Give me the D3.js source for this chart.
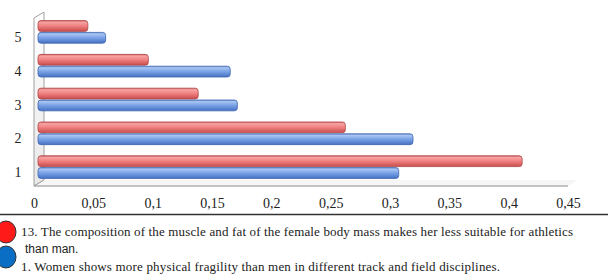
<!DOCTYPE html>
<html>
<head>
<meta charset="utf-8">
<script src="https://cdn.jsdelivr.net/npm/d3@7"></script>
<style>
  html, body { margin: 0; padding: 0; background: #fff; }
  svg { display: block; }
</style>
</head>
<body>
<div id="chart"></div>
<script>
// categories, bottom (1) to top (5)
var categories = ["1", "2", "3", "4", "5"];
// series 13 (red) and series 1 (blue)
var redValues = [0.408, 0.259, 0.135, 0.093, 0.042];
var blueValues = [0.304, 0.316, 0.168, 0.162, 0.057];
var xTicks = [0, 0.05, 0.1, 0.15, 0.2, 0.25, 0.3, 0.35, 0.4, 0.45];
var legendLabels = [
  ["13. The composition of the muscle and fat of the female body mass makes her less suitable for athletics", "than man."],
  ["1.  Women shows more physical fragility than men in different track and field disciplines."]
];

var width = 612, height = 280;
var depthX = 10, depthY = 6;
var barShift = 4;

var svg = d3.select('#chart').append('svg')
  .attr('width', width)
  .attr('height', height);

var defs = svg.append('defs');

function addGradient(id, stops) {
  var g = defs.append('linearGradient')
    .attr('id', id)
    .attr('x1', 0).attr('y1', 0)
    .attr('x2', 0).attr('y2', 1);
  stops.forEach(function(s) {
    g.append('stop').attr('offset', s[0]).attr('stop-color', s[1]);
  });
}
addGradient('gradRed', [[0, '#d46060'], [0.15, '#f6a3a3'], [0.45, '#f28585'], [1, '#c94c4c']]);
addGradient('gradBlue', [[0, '#6f95d8'], [0.15, '#a9c5f2'], [0.45, '#7ea6e8'], [1, '#4571c4']]);
addGradient('gradWall', [[0, '#ffffff'], [1, '#e8e8e8']]);

var x = d3.scaleLinear()
  .domain([0, 0.45])
  .range([34, 568]);

var y = d3.scaleBand()
  .domain(categories.slice().reverse())
  .range([15, 184])
  .paddingInner(0.3)
  .paddingOuter(0.15);

var ySub = d3.scaleBand()
  .domain(['red', 'blue'])
  .range([0, y.bandwidth()]);

var floorY = 186;
var wallTop = 18;

// wall on the left
svg.append('path')
  .attr('d', 'M' + x(0) + ',' + floorY +
    'L' + x(0) + ',' + wallTop +
    'L' + (x(0) + depthX) + ',' + (wallTop - depthY) +
    'L' + (x(0) + depthX) + ',' + (floorY - depthY) + 'Z')
  .attr('fill', 'url(#gradWall)')
  .attr('stroke', '#a0a0a0')
  .attr('stroke-width', 1);

// floor
svg.append('path')
  .attr('d', 'M' + x(0) + ',' + floorY +
    'L' + (x(0) + depthX) + ',' + (floorY - depthY) +
    'L' + (x(0.45) + depthX) + ',' + (floorY - depthY) +
    'L' + x(0.45) + ',' + floorY + 'Z')
  .attr('fill', '#f6f6f6')
  .attr('stroke', 'none');
svg.append('line')
  .attr('x1', x(0)).attr('x2', x(0.45))
  .attr('y1', floorY).attr('y2', floorY)
  .attr('stroke', '#8c8c8c')
  .attr('stroke-width', 1.2);
svg.append('line')
  .attr('x1', x(0)).attr('x2', x(0) + depthX)
  .attr('y1', floorY).attr('y2', floorY - depthY)
  .attr('stroke', '#a0a0a0');

// bars
var rows = categories.map(function(c, i) {
  return { cat: c, red: redValues[i], blue: blueValues[i] };
});

var groups = svg.selectAll('g.row')
  .data(rows)
  .enter().append('g')
  .attr('class', 'row')
  .attr('transform', function(d) { return 'translate(0,' + y(d.cat) + ')'; });

var series = [
  { key: 'red', fill: 'url(#gradRed)', stroke: '#b04848' },
  { key: 'blue', fill: 'url(#gradBlue)', stroke: '#3d66b0' }
];

series.forEach(function(s) {
  groups.append('rect')
    .attr('x', x(0) + barShift)
    .attr('y', ySub(s.key) + 0.5)
    .attr('width', function(d) { return x(d[s.key]) - x(0); })
    .attr('height', ySub.bandwidth() - 1)
    .attr('rx', 3)
    .attr('ry', 3)
    .attr('fill', s.fill)
    .attr('stroke', s.stroke)
    .attr('stroke-width', 0.8);
});

// category labels
svg.selectAll('text.cat')
  .data(categories)
  .enter().append('text')
  .attr('class', 'cat')
  .attr('x', 18)
  .attr('y', function(d) { return y(d) + y.bandwidth() / 2 + 5 + 5; })
  .attr('text-anchor', 'middle')
  .attr('font-family', 'Liberation Serif, Times New Roman, serif')
  .attr('font-size', '14px')
  .attr('fill', '#222')
  .text(function(d) { return d; });

// x axis labels
var locale = d3.formatLocale({ decimal: ',', thousands: '.', grouping: [3], currency: ['', ''] });
var xAxis = d3.axisBottom(x)
  .tickValues(xTicks)
  .tickSize(0)
  .tickPadding(0)
  .tickFormat(locale.format('.2~f'));

var axisG = svg.append('g')
  .attr('transform', 'translate(0,' + 198 + ')')
  .call(xAxis);
axisG.select('.domain').remove();
axisG.selectAll('text')
  .attr('font-family', 'Liberation Serif, Times New Roman, serif')
  .attr('font-size', '14px')
  .attr('fill', '#222');

// separator line
svg.append('line')
  .attr('x1', 0).attr('x2', 608)
  .attr('y1', 214.5).attr('y2', 214.5)
  .attr('stroke', '#333')
  .attr('stroke-width', 1.5);

// legend
var legendColors = ['#ff1a1a', '#0a6fc4'];
var legendY = [232, 257];
legendColors.forEach(function(c, i) {
  svg.append('ellipse')
    .attr('cx', 6)
    .attr('cy', legendY[i])
    .attr('rx', 10)
    .attr('ry', 11)
    .attr('fill', c)
    .attr('stroke', '#333')
    .attr('stroke-width', 1);
});

svg.append('text')
  .attr('x', 21).attr('y', 236)
  .attr('font-family', 'Liberation Serif, Times New Roman, serif')
  .attr('font-size', '13px')
  .attr('fill', '#222')
  .attr('textLength', 552)
  .attr('lengthAdjust', 'spacing')
  .text(legendLabels[0][0]);
svg.append('text')
  .attr('x', 25).attr('y', 253)
  .attr('font-family', 'Liberation Sans, Arial, sans-serif')
  .attr('font-size', '12px')
  .attr('fill', '#222')
  .text(legendLabels[0][1]);
svg.append('text')
  .attr('x', 21).attr('y', 271)
  .attr('font-family', 'Liberation Serif, Times New Roman, serif')
  .attr('font-size', '13px')
  .attr('fill', '#222')
  .attr('textLength', 479)
  .attr('lengthAdjust', 'spacing')
  .text(legendLabels[1][0]);
</script>
</body>
</html>
